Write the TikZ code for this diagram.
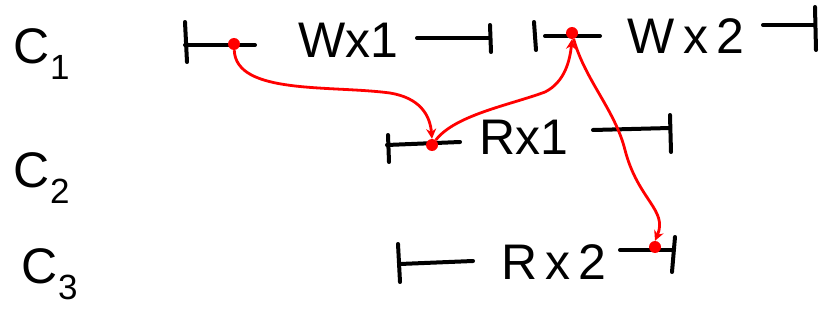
\documentclass[tikz,border=0pt]{standalone}
\usepackage{fontspec}
\setmainfont{Liberation Sans}
\usetikzlibrary{arrows.meta}
\begin{document}
\begin{tikzpicture}[x=1pt,y=-1pt,
  ink/.style={line width=4pt,line cap=round,black},
  lbl/.style={inner sep=0pt,font=\fontsize{50}{50}\selectfont},
  rowlbl/.style={inner sep=0pt,font=\fontsize{50}{50}\selectfont},
  dep/.style={red,line width=2.8pt,-{Stealth[length=10pt,width=10pt]}},
  dotc/.style={circle,fill=red,inner sep=0pt,minimum size=12pt}]
\useasboundingbox (0,0) rectangle (823,329);
% row labels
\node[rowlbl] (c1) at (42,54) {C$_{\mathrm{1}}$};
\node[rowlbl] (c2) at (42,178) {C$_{\mathrm{2}}$};
\node[rowlbl] (c3) at (50,274) {C$_{\mathrm{3}}$};
% W x1
\coordinate (w1l) at (185,45);
\coordinate (w1a) at (255,45);
\node[lbl] (w1) at (348,40) {Wx1};
\coordinate (w1b) at (417,38);
\coordinate (w1r) at (490,38);
\draw[ink] (185,22) -- (187,62);
\draw[ink] (w1l) -- (w1a);
\draw[ink] (w1b) -- (w1r);
\draw[ink] (490,25) -- (491,52);
% W x2
\coordinate (w2l) at (545,36);
\coordinate (w2a) at (600,36);
\node[lbl] (w2) at (686,36) {W\,x\,2};
\coordinate (w2b) at (763,25);
\coordinate (w2r) at (815,25);
\draw[ink] (534,22) -- (536,50);
\draw[ink] (w2l) -- (w2a);
\draw[ink] (w2b) -- (w2r);
\draw[ink] (815,7) -- (816,50);
% R x1
\coordinate (r1l) at (387,145);
\coordinate (r1a) at (460,142);
\node[lbl] (r1) at (524,137) {Rx1};
\coordinate (r1b) at (593,130);
\coordinate (r1r) at (670,128);
\draw[ink] (388,135) -- (389,162);
\draw[ink] (r1l) -- (r1a);
\draw[ink] (r1b) -- (r1r);
\draw[ink] (670,115) -- (671,152);
% R x2
\coordinate (r2l) at (400,264);
\coordinate (r2a) at (473,261);
\node[lbl] (r2) at (554,262) {R\,x\,2};
\coordinate (r2b) at (620,250);
\coordinate (r2r) at (672,250);
\draw[ink] (398,244) -- (400,282);
\draw[ink] (r2l) -- (r2a);
\draw[ink] (r2b) -- (r2r);
\draw[ink] (675,237) -- (672,272);
% event dots
\node[dotc] (ew1) at (234,44) {};
\node[dotc] (ew2) at (572,33) {};
\node[dotc] (er1) at (432,145) {};
\node[dotc] (er2) at (655,247) {};
% dependency arrows
\draw[dep] (ew1) .. controls (236,95) and (330,85) .. (390,93)
  .. controls (420,98) and (430,115) .. (er1.north);
\draw[dep] (er1) .. controls (455,115) and (510,105) .. (545,92)
  .. controls (565,82) and (570,60) .. (ew2.south);
\draw[dep] (ew2) .. controls (585,80) and (615,110) .. (625,150)
  .. controls (638,200) and (668,210) .. (er2.north);
\end{tikzpicture}
\end{document}
